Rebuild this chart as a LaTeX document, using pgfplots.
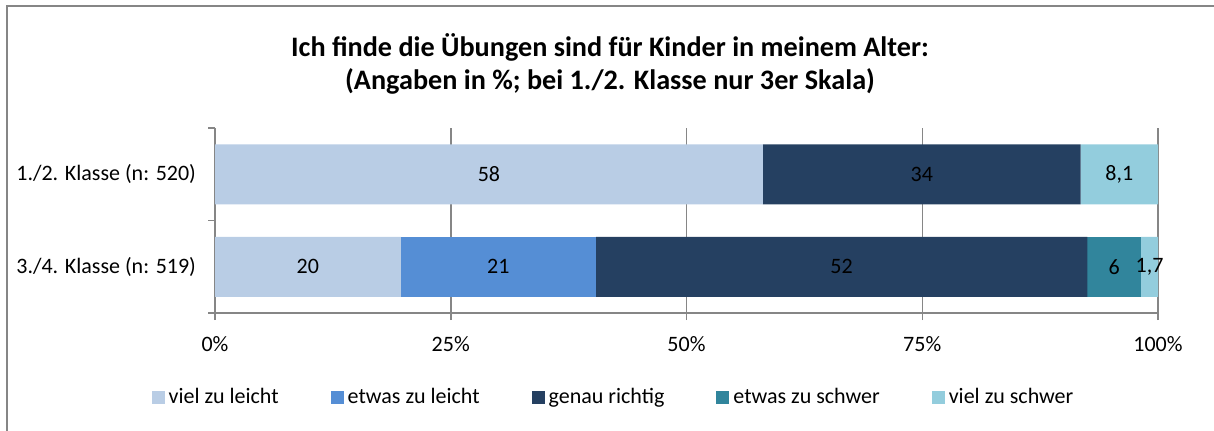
\documentclass[border=0pt]{standalone}
\usepackage{pgfplots}
\pgfplotsset{compat=1.18}
\usepackage{fontspec}
\setmainfont{Carlito}
\definecolor{c1}{HTML}{B9CDE5}
\definecolor{c2}{HTML}{558ED5}
\definecolor{c3}{HTML}{254061}
\definecolor{c4}{HTML}{31859C}
\definecolor{c5}{HTML}{93CDDD}
\definecolor{gridc}{HTML}{868686}
\newcommand{\lf}{\fontsize{11}{13}\selectfont}
\begin{document}
\begin{tikzpicture}
\path[use as bounding box] (0pt,0pt) rectangle (607pt,-215pt);
\draw[gridc, line width=1pt] (3.5pt,-216pt) -- (3.5pt,-3pt) -- (608pt,-3pt);
\node[font=\bfseries\fontsize{14.1}{16.5}\selectfont, align=center] at (305pt,-31.75pt)
  {Ich finde die Übungen sind für Kinder in meinem Alter:\\(Angaben in \%; bei 1./2. Klasse nur 3er Skala)};
\begin{axis}[
  at={(107.5pt,-156.5pt)}, anchor=south west,
  scale only axis, width=471.5pt, height=92.5pt,
  xbar stacked, bar width=30pt,
  xmin=0, xmax=100, ymin=-0.5, ymax=1.5,
  clip=false,
  axis lines=left, axis line style={-, gridc, line width=0.75pt},
  xtick={0,25,50,75,100}, xticklabels={0\%,25\%,50\%,75\%,100\%},
  xmajorgrids, grid style={gridc, line width=0.75pt},
  tick align=outside, major tick length=3.5pt,
  tick style={gridc, line width=0.75pt},
  ytick={-0.5,0.5,1.5}, yticklabels={},
  extra y ticks={0,1}, extra y tick labels={3./4. Klasse (n: 519),1./2. Klasse (n: 520)},
  extra y tick style={major tick length=0pt, yticklabel style={xshift=-6pt}},
  xticklabel style={yshift=-4.5pt},
  ticklabel style={font=\lf},
  legend style={at={(0.4236,-0.454)}, anchor=center, draw=none, legend columns=5,
    font=\lf,
    /tikz/every even column/.append style={column sep=24pt}},
  legend image code/.code={\fill[#1] (0pt,-3.25pt) rectangle (6.5pt,3.25pt);},
  after end axis/.code={
    \node[font=\lf] at (axis cs:29.05,1) {58};
    \node[font=\lf] at (axis cs:74.95,1) {34};
    \node[font=\lf] at (axis cs:95.9,1) {8,1};
    \node[font=\lf] at (axis cs:9.85,0) {20};
    \node[font=\lf] at (axis cs:30.05,0) {21};
    \node[font=\lf] at (axis cs:66.45,0) {52};
    \node[font=\lf] at (axis cs:95.35,0) {6};
    \node[font=\lf] at (axis cs:99.1,0) {1,7};
  },
]
\addplot[fill=c1, draw=none] coordinates {(19.7,0) (58.1,1)};
\addplot[fill=c2, draw=none] coordinates {(20.7,0) (0,1)};
\addplot[fill=c3, draw=none] coordinates {(52.1,0) (33.7,1)};
\addplot[fill=c4, draw=none] coordinates {(5.7,0) (0,1)};
\addplot[fill=c5, draw=none] coordinates {(1.8,0) (8.2,1)};
\legend{viel zu leicht,etwas zu leicht,genau richtig,etwas zu schwer,viel zu schwer}
\end{axis}
\end{tikzpicture}
\end{document}
